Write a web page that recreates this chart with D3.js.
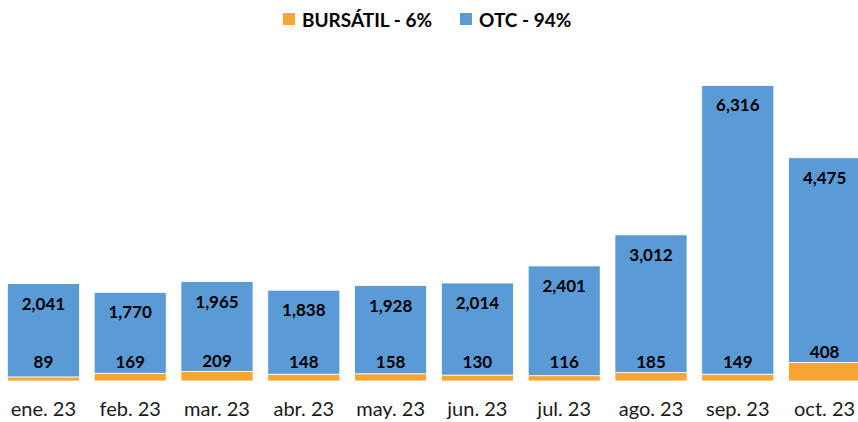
<!DOCTYPE html>
<html>
<head>
<meta charset="utf-8">
<script src="https://cdn.jsdelivr.net/npm/d3@7.9.0/dist/d3.min.js"></script>
<style>
  body { margin: 0; background: #fff; }
  svg { display: block; font-family: Lato, "Open Sans", sans-serif; }
</style>
</head>
<body>
<svg id="chart" width="858" height="422"></svg>
<script>
// data
const months = ['ene. 23', 'feb. 23', 'mar. 23', 'abr. 23', 'may. 23', 'jun. 23', 'jul. 23', 'ago. 23', 'sep. 23', 'oct. 23'];
const bursatil = [89, 169, 209, 148, 158, 130, 116, 185, 149, 408];
const otc = [2041, 1770, 1965, 1838, 1928, 2014, 2401, 3012, 6316, 4475];
const seriesNames = ['BURSÁTIL - 6%', 'OTC - 94%'];
const colors = ['#F9A533', '#5B9BD5'];

const svg = d3.select('#chart');

let x = d3.scaleBand().domain(months).range([0, 868]).paddingInner(0.17).paddingOuter(0.085);
let y = d3.scaleLinear().domain([0, 7000]).range([381, 61]);

let table = months.map((m, i) => ({ month: m, bursatil: bursatil[i], otc: otc[i] }));
let stacked = d3.stack().keys(['bursatil', 'otc'])(table);

const fmt = d3.format(',');

stacked.forEach((layer, li) => {
    svg.append('g')
        .selectAll('rect')
        .data(layer)
        .join('rect')
        .attr('x', d => x(d.data.month))
        .attr('width', x.bandwidth())
        .attr('y', d => y(d[1]))
        .attr('height', d => y(d[0]) - y(d[1]))
        .attr('fill', colors[li])
        .attr('stroke', '#fff')
        .attr('stroke-width', 0.8);
});

// OTC labels near the top of the blue segment
svg.append('g')
    .selectAll('text')
    .data(stacked[1])
    .join('text')
    .attr('x', d => x(d.data.month) + x.bandwidth() / 2)
    .attr('y', d => y(d[1]) + 20)
    .attr('dy', '0.35em')
    .attr('text-anchor', 'middle')
    .attr('font-size', 17)
    .attr('font-weight', 'bold')
    .attr('fill', '#000')
    .text(d => fmt(d.data.otc));

// bursatil labels just above the orange segment
svg.append('g')
    .selectAll('text')
    .data(stacked[0])
    .join('text')
    .attr('x', d => x(d.data.month) + x.bandwidth() / 2)
    .attr('y', d => Math.min(362, y(d[1]) - 10))
    .attr('dy', '0.35em')
    .attr('text-anchor', 'middle')
    .attr('font-size', 17)
    .attr('font-weight', 'bold')
    .attr('fill', '#000')
    .text(d => fmt(d.data.bursatil));

// month labels
svg.append('g')
    .selectAll('text')
    .data(months)
    .join('text')
    .attr('x', d => x(d) + x.bandwidth() / 2)
    .attr('y', 416)
    .attr('text-anchor', 'middle')
    .attr('font-size', 20)
    .attr('fill', '#1a1a1a')
    .text(d => d);

// legend
let legendX = [283, 460];
seriesNames.forEach((name, i) => {
    let g = svg.append('g').attr('transform', `translate(${legendX[i]},0)`);
    g.append('rect')
        .attr('x', 0).attr('y', 13)
        .attr('width', 12).attr('height', 12)
        .attr('fill', colors[i]);
    g.append('text')
        .attr('x', 19).attr('y', 27)
        .attr('font-size', 19)
        .attr('font-weight', 'bold')
        .attr('fill', '#000')
        .text(name);
});
</script>
</body>
</html>
